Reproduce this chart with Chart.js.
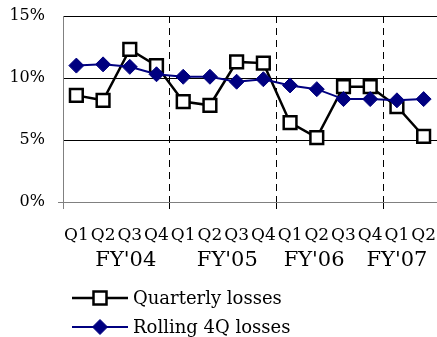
<!DOCTYPE html>
<html>
<head>
<meta charset="utf-8">
<script src="https://cdn.jsdelivr.net/npm/chart.js@4/dist/chart.umd.min.js"></script>
<style>
  html, body { margin: 0; padding: 0; background: #fff; }
  #wrap { width: 437px; height: 337px; }
</style>
</head>
<body>
<div id="wrap"><canvas id="c" width="437" height="337"></canvas></div>
<script>
// Quarter labels along the x axis
const quarters = ['Q1','Q2','Q3','Q4','Q1','Q2','Q3','Q4','Q1','Q2','Q3','Q4','Q1','Q2'];
// Fiscal-year captions under the quarters
const fiscalYears = ["FY'04", "FY'05", "FY'06", "FY'07"];
// Loss rates, percent
const quarterlyLosses = [8.6, 8.2, 12.3, 11.0, 8.1, 7.8, 11.3, 11.2, 6.4, 5.2, 9.3, 9.3, 7.7, 5.3];
const rolling4QLosses = [11.0, 11.1, 10.9, 10.3, 10.1, 10.1, 9.7, 9.9, 9.4, 9.1, 8.3, 8.3, 8.2, 8.3];
// Y axis ticks, percent
const yTicks = [0, 5, 10, 15];

const SERIF = "'DejaVu Serif', serif";
const NAVY = '#000080';

// Where each fiscal-year caption sits, in category units
const fyCaptionAt = [1.85, 5.65, 8.9, 12.0];

// Keep horizontal axes from reserving side space for their end labels
const noSidePadding = (axis) => { axis.paddingLeft = 0; axis.paddingRight = 0; };

const seriesLegend = {
  id: 'seriesLegend',
  afterDraw(chart) {
    const ctx = chart.ctx;
    const items = [
      { ds: chart.data.datasets[0], y: 298 },
      { ds: chart.data.datasets[1], y: 327 }
    ];
    ctx.save();
    items.forEach(({ ds, y }) => {
      const x0 = 72, x1 = 128, xm = 100;
      ctx.beginPath();
      ctx.moveTo(x0, y); ctx.lineTo(x1, y);
      ctx.strokeStyle = ds.borderColor;
      ctx.lineWidth = ds.borderWidth;
      ctx.stroke();
      ctx.beginPath();
      if (ds.pointStyle === 'rect') {
        const h = 6.5;
        ctx.rect(xm - h, y - h, 2 * h, 2 * h);
      } else {
        const r = 7.5;
        ctx.moveTo(xm, y - r); ctx.lineTo(xm + r, y); ctx.lineTo(xm, y + r); ctx.lineTo(xm - r, y);
        ctx.closePath();
      }
      ctx.fillStyle = ds.pointBackgroundColor;
      ctx.fill();
      ctx.lineWidth = ds.pointBorderWidth;
      ctx.strokeStyle = ds.pointBorderColor;
      ctx.stroke();
      ctx.fillStyle = '#000';
      ctx.font = "18px " + SERIF;
      ctx.textBaseline = 'middle';
      ctx.textAlign = 'left';
      ctx.fillText(ds.label, 133, y + 1);
    });
    ctx.restore();
  }
};

new Chart(document.getElementById('c'), {
  type: 'line',
  data: {
    labels: quarters,
    datasets: [
      {
        label: 'Quarterly losses',
        data: quarterlyLosses,
        borderColor: '#000',
        borderWidth: 2.5,
        pointStyle: 'rect',
        pointRadius: 9,
        pointHoverRadius: 9,
        pointBackgroundColor: '#fff',
        pointBorderColor: '#000',
        pointBorderWidth: 2.5,
        tension: 0,
        order: 1
      },
      {
        label: 'Rolling 4Q losses',
        data: rolling4QLosses,
        borderColor: NAVY,
        borderWidth: 2,
        pointStyle: 'rectRot',
        pointRadius: 7.5,
        pointHoverRadius: 7.5,
        pointBackgroundColor: NAVY,
        pointBorderColor: NAVY,
        pointBorderWidth: 1,
        tension: 0,
        order: 0
      }
    ]
  },
  options: {
    responsive: false,
    animation: false,
    layout: { autoPadding: false, padding: { top: 16, left: 7, right: 0, bottom: 60 } },
    plugins: {
      legend: { display: false },
      tooltip: { enabled: false }
    },
    scales: {
      x: {
        type: 'category',
        position: 'bottom',
        offset: true,
        weight: 0,
        afterFit: (axis) => { noSidePadding(axis); axis.height = 45; },
        grid: {
          offset: true,
          drawTicks: true,
          tickLength: 7,
          lineWidth: 1,
          color: (c) => (c.index % 4 === 0 && c.index > 0 && c.index < quarters.length) ? '#000' : 'rgba(0,0,0,0)',
          tickColor: (c) => (c.index % 4 === 0 && c.index < quarters.length) ? (c.index === 0 ? '#808080' : '#000') : 'rgba(0,0,0,0)'
        },
        border: { display: false, dash: [7, 5] },
        ticks: {
          autoSkip: false,
          maxRotation: 0,
          minRotation: 0,
          padding: 16,
          color: '#000',
          font: { family: SERIF, size: 17 }
        }
      },
      fy: {
        type: 'linear',
        position: 'bottom',
        weight: 1,
        min: -0.5,
        max: quarters.length - 0.5,
        afterFit: (axis) => { noSidePadding(axis); axis.height = 30; },
        grid: { display: false, drawTicks: false },
        border: { display: false },
        afterBuildTicks: (axis) => { axis.ticks = fyCaptionAt.map(v => ({ value: v })); },
        ticks: {
          autoSkip: false,
          maxRotation: 0,
          padding: 1,
          color: '#000',
          font: { family: SERIF, size: 21 },
          callback: (v, i) => fiscalYears[i]
        }
      },
      y: {
        min: 0,
        max: 15,
        afterBuildTicks: (axis) => { axis.ticks = yTicks.map(v => ({ value: v })); },
        afterFit: (axis) => { axis.width = 56; axis.paddingTop = 0; axis.paddingBottom = 0; },
        grid: {
          drawTicks: true,
          tickLength: 5,
          lineWidth: 1,
          color: (c) => c.tick && c.tick.value === 0 ? '#808080' : '#000',
          tickColor: (c) => c.tick && c.tick.value === 0 ? '#808080' : 'rgba(0,0,0,0)'
        },
        border: { display: true, color: '#808080', width: 1 },
        ticks: {
          padding: 13,
          color: '#000',
          font: { family: SERIF, size: 16 },
          callback: (v) => v + '%'
        }
      }
    }
  },
  plugins: [seriesLegend]
});
</script>
</body>
</html>
